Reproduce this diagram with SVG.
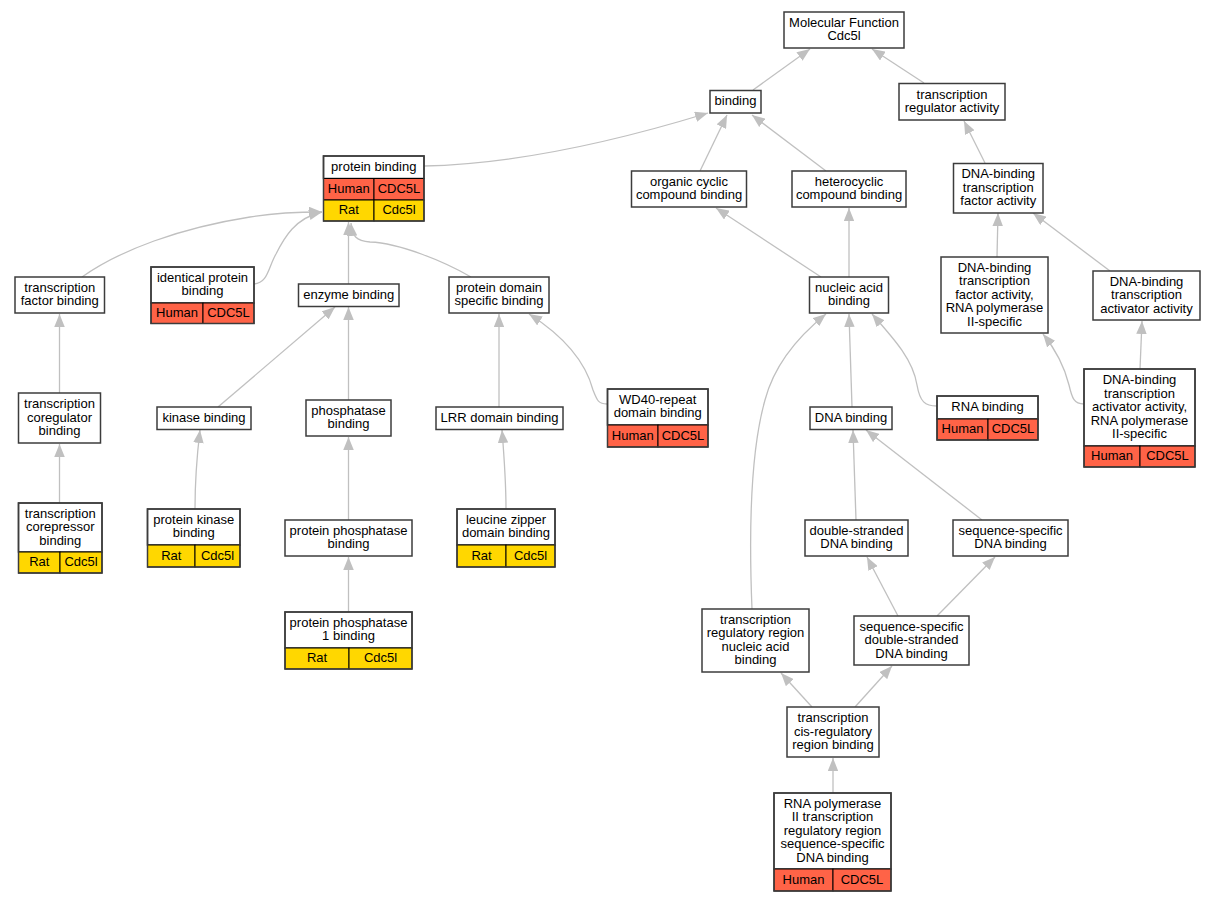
<svg xmlns="http://www.w3.org/2000/svg" width="1216" height="901" viewBox="0 0 1216 901">
<style>
text{font-family:"Liberation Sans",Arial,sans-serif;font-size:13px;text-anchor:middle;fill:#000}
.b{fill:#fff;stroke:#3c3c3c;stroke-width:1.5}
.o{fill:none;stroke:#3c3c3c;stroke-width:1.5}
.h{fill:#FF6347;stroke:#000;stroke-width:1}
.r{fill:#FFD700;stroke:#000;stroke-width:1}
.e{fill:none;stroke:#c0c0c0;stroke-width:1.3;marker-end:url(#a)}
</style>
<defs>
<marker id="a" markerUnits="userSpaceOnUse" markerWidth="13" markerHeight="10.5" viewBox="0 0 13 10.5" refX="13" refY="5.25" orient="auto">
<path d="M0,0 L13,5.25 L0,10.5 z" fill="#c0c0c0"/>
</marker>
</defs>
<rect width="1216" height="901" fill="#fff"/>
<g id="edges">
<path class="e" d="M753,90 L810,49"/>
<path class="e" d="M924,83 L872,49"/>
<path class="e" d="M424,166 C520,164 620,140 708,113"/>
<path class="e" d="M700,171 L727,115"/>
<path class="e" d="M826,171 L752,115"/>
<path class="e" d="M985,163 L964,121"/>
<path class="e" d="M82,277 C120,250 180,228 250,217 C280,212 305,212 322,212"/>
<path class="e" d="M254,284 C268,283 268,268 276,254 C284,238 295,218 322,212"/>
<path class="e" d="M348.5,284 L348.5,222"/>
<path class="e" d="M471,277 C445,262 400,243 370,242 C356,241 352,236 351,223"/>
<path class="e" d="M218,407 L335,307"/>
<path class="e" d="M348.5,400 L348.5,307"/>
<path class="e" d="M195,509 C195,480 197,455 200,430"/>
<path class="e" d="M348.5,520 L348.5,437"/>
<path class="e" d="M348.5,612 L348.5,557"/>
<path class="e" d="M59.5,393 L59.5,314"/>
<path class="e" d="M59.5,503 L59.5,444"/>
<path class="e" d="M499,407 L499,314"/>
<path class="e" d="M506,509 C506,480 504,455 502,430"/>
<path class="e" d="M607,404 C598,404 597,400 593,390 C585,360 562,335 529,314"/>
<path class="e" d="M821,277 L716,208"/>
<path class="e" d="M849,277 L849,208"/>
<path class="e" d="M852,407 L849,314"/>
<path class="e" d="M937,406 C925,406 920,402 917,385 C913,360 895,340 872,314"/>
<path class="e" d="M752,609 C750,560 748,460 765,400 C775,362 800,335 826,314"/>
<path class="e" d="M997,257 L998,213"/>
<path class="e" d="M1110,271 L1033,213"/>
<path class="e" d="M1084,404 C1074,404 1072,398 1069,385 C1064,365 1056,350 1043,334"/>
<path class="e" d="M1140,369 L1142,321"/>
<path class="e" d="M856,520 L853,430"/>
<path class="e" d="M982,520 L866,430"/>
<path class="e" d="M898,616 L867,557"/>
<path class="e" d="M937,616 L995,557"/>
<path class="e" d="M812,707 L781,673"/>
<path class="e" d="M855,707 L892,666"/>
<path class="e" d="M833,793 L833,758"/>
</g>
<g id="mf"><rect class="b" x="784" y="12" width="120" height="36"/><text x="844" y="26.8">Molecular Function</text><text x="844" y="40.3">Cdc5l</text></g>
<g id="binding"><rect class="b" x="710" y="90.5" width="51" height="22.5"/><text x="735.5" y="105.3">binding</text></g>
<g id="tra"><rect class="b" x="899" y="83.5" width="106" height="36.5"/><text x="952" y="98.5">transcription</text><text x="952" y="112">regulator activity</text></g>
<g id="pb"><rect class="b" x="323.5" y="156" width="100.5" height="22.5"/><rect class="h" x="323.5" y="178.5" width="50.5" height="21.5"/><rect class="h" x="374" y="178.5" width="50" height="21.5"/><rect class="r" x="323.5" y="200" width="50.5" height="21"/><rect class="r" x="374" y="200" width="50" height="21"/><rect class="o" x="323.5" y="156" width="100.5" height="65"/><text x="373.75" y="170.8">protein binding</text><text x="348.75" y="192.8">Human</text><text x="399" y="192.8">CDC5L</text><text x="348.75" y="214">Rat</text><text x="399" y="214">Cdc5l</text></g>
<g id="organic"><rect class="b" x="631.5" y="171" width="115" height="36"/><text x="689" y="185.75">organic cyclic</text><text x="689" y="199.25">compound binding</text></g>
<g id="hetero"><rect class="b" x="792" y="171" width="114" height="36"/><text x="849" y="185.75">heterocyclic</text><text x="849" y="199.25">compound binding</text></g>
<g id="dnatf"><rect class="b" x="953.5" y="163.5" width="89.5" height="49.5"/><text x="998.25" y="178.25">DNA-binding</text><text x="998.25" y="191.75">transcription</text><text x="998.25" y="205.25">factor activity</text></g>
<g id="tfb"><rect class="b" x="15" y="277" width="89.5" height="36"/><text x="59.75" y="291.75">transcription</text><text x="59.75" y="305.25">factor binding</text></g>
<g id="ident"><rect class="b" x="151" y="267" width="103" height="36"/><rect class="h" x="151" y="303" width="52" height="20.5"/><rect class="h" x="203" y="303" width="51" height="20.5"/><rect class="o" x="151" y="267" width="103" height="56.5"/><text x="202.5" y="281.75">identical protein</text><text x="202.5" y="295.25">binding</text><text x="177" y="317">Human</text><text x="228.5" y="317">CDC5L</text></g>
<g id="enzyme"><rect class="b" x="298.5" y="284" width="100.5" height="22.5"/><text x="348.75" y="298.75">enzyme binding</text></g>
<g id="domain"><rect class="b" x="449" y="277" width="100" height="36"/><text x="499" y="291.75">protein domain</text><text x="499" y="305.25">specific binding</text></g>
<g id="nucleic"><rect class="b" x="809.5" y="277" width="79" height="36"/><text x="849" y="291.75">nucleic acid</text><text x="849" y="305.25">binding</text></g>
<g id="dnatfpol"><rect class="b" x="941" y="257" width="107" height="76"/><text x="994.5" y="271.5">DNA-binding</text><text x="994.5" y="285">transcription</text><text x="994.5" y="298.5">factor activity,</text><text x="994.5" y="312">RNA polymerase</text><text x="994.5" y="325.5">II-specific</text></g>
<g id="activator"><rect class="b" x="1093" y="271" width="107" height="49"/><text x="1146.5" y="285.5">DNA-binding</text><text x="1146.5" y="299">transcription</text><text x="1146.5" y="312.5">activator activity</text></g>
<g id="coreg"><rect class="b" x="18.5" y="393" width="82" height="50"/><text x="59.5" y="408">transcription</text><text x="59.5" y="421.5">coregulator</text><text x="59.5" y="435">binding</text></g>
<g id="kinase"><rect class="b" x="157" y="407" width="94" height="22.5"/><text x="204" y="421.75">kinase binding</text></g>
<g id="phos"><rect class="b" x="306" y="400" width="85" height="36"/><text x="348.5" y="414.75">phosphatase</text><text x="348.5" y="428.25">binding</text></g>
<g id="lrr"><rect class="b" x="436" y="407" width="127" height="22.5"/><text x="499.5" y="421.75">LRR domain binding</text></g>
<g id="wd40"><rect class="b" x="607.5" y="389" width="100.5" height="36"/><rect class="h" x="607.5" y="425" width="50.5" height="22"/><rect class="h" x="658" y="425" width="50" height="22"/><rect class="o" x="607.5" y="389" width="100.5" height="58"/><text x="657.75" y="403.75">WD40-repeat</text><text x="657.75" y="417.25">domain binding</text><text x="632.75" y="439.5">Human</text><text x="683" y="439.5">CDC5L</text></g>
<g id="dnab"><rect class="b" x="810" y="407" width="82" height="22.5"/><text x="851" y="421.75">DNA binding</text></g>
<g id="rnab"><rect class="b" x="937" y="396" width="101" height="23"/><rect class="h" x="937" y="419" width="51" height="21"/><rect class="h" x="988" y="419" width="50" height="21"/><rect class="o" x="937" y="396" width="101" height="44"/><text x="987.5" y="411">RNA binding</text><text x="962.5" y="433">Human</text><text x="1013" y="433">CDC5L</text></g>
<g id="actpol"><rect class="b" x="1084" y="369" width="111" height="77"/><rect class="h" x="1084" y="446" width="56" height="21"/><rect class="h" x="1140" y="446" width="55" height="21"/><rect class="o" x="1084" y="369" width="111" height="98"/><text x="1139.5" y="384">DNA-binding</text><text x="1139.5" y="397.5">transcription</text><text x="1139.5" y="411">activator activity,</text><text x="1139.5" y="424.5">RNA polymerase</text><text x="1139.5" y="438">II-specific</text><text x="1112" y="460">Human</text><text x="1167.5" y="460">CDC5L</text></g>
<g id="corep"><rect class="b" x="18.5" y="503" width="83.5" height="49"/><rect class="r" x="18.5" y="552" width="41.5" height="21"/><rect class="r" x="60" y="552" width="42" height="21"/><rect class="o" x="18.5" y="503" width="83.5" height="70"/><text x="60.25" y="517.5">transcription</text><text x="60.25" y="531">corepressor</text><text x="60.25" y="544.5">binding</text><text x="39.25" y="566">Rat</text><text x="81" y="566">Cdc5l</text></g>
<g id="pkinase"><rect class="b" x="147.5" y="509" width="92.5" height="36"/><rect class="r" x="147.5" y="545" width="47.5" height="22"/><rect class="r" x="195" y="545" width="45" height="22"/><rect class="o" x="147.5" y="509" width="92.5" height="58"/><text x="193.75" y="523.75">protein kinase</text><text x="193.75" y="537.25">binding</text><text x="171.25" y="559.5">Rat</text><text x="217.5" y="559.5">Cdc5l</text></g>
<g id="pphos"><rect class="b" x="285" y="520" width="127" height="36"/><text x="348.5" y="534.75">protein phosphatase</text><text x="348.5" y="548.25">binding</text></g>
<g id="leucine"><rect class="b" x="457" y="509" width="98" height="36"/><rect class="r" x="457" y="545" width="49" height="22"/><rect class="r" x="506" y="545" width="49" height="22"/><rect class="o" x="457" y="509" width="98" height="58"/><text x="506" y="523.75">leucine zipper</text><text x="506" y="537.25">domain binding</text><text x="481.5" y="559.5">Rat</text><text x="530.5" y="559.5">Cdc5l</text></g>
<g id="ds"><rect class="b" x="805" y="520" width="103" height="36"/><text x="856.5" y="534.75">double-stranded</text><text x="856.5" y="548.25">DNA binding</text></g>
<g id="ssdna"><rect class="b" x="953" y="520" width="115" height="36"/><text x="1010.5" y="534.75">sequence-specific</text><text x="1010.5" y="548.25">DNA binding</text></g>
<g id="pp1"><rect class="b" x="285" y="612" width="127" height="36"/><rect class="r" x="285" y="648" width="64" height="21"/><rect class="r" x="349" y="648" width="63" height="21"/><rect class="o" x="285" y="612" width="127" height="57"/><text x="348.5" y="626.75">protein phosphatase</text><text x="348.5" y="640.25">1 binding</text><text x="317" y="662">Rat</text><text x="380.5" y="662">Cdc5l</text></g>
<g id="trr"><rect class="b" x="702" y="609" width="107" height="63"/><text x="755.5" y="623.75">transcription</text><text x="755.5" y="637.25">regulatory region</text><text x="755.5" y="650.75">nucleic acid</text><text x="755.5" y="664.25">binding</text></g>
<g id="ssds"><rect class="b" x="854" y="616" width="115" height="49"/><text x="911.5" y="630.5">sequence-specific</text><text x="911.5" y="644">double-stranded</text><text x="911.5" y="657.5">DNA binding</text></g>
<g id="cis"><rect class="b" x="787" y="707" width="92" height="50"/><text x="833" y="722">transcription</text><text x="833" y="735.5">cis-regulatory</text><text x="833" y="749">region binding</text></g>
<g id="rnapol"><rect class="b" x="774" y="793" width="117" height="76"/><rect class="h" x="774" y="869" width="59" height="22"/><rect class="h" x="833" y="869" width="58" height="22"/><rect class="o" x="774" y="793" width="117" height="98"/><text x="832.5" y="807.5">RNA polymerase</text><text x="832.5" y="821">II transcription</text><text x="832.5" y="834.5">regulatory region</text><text x="832.5" y="848">sequence-specific</text><text x="832.5" y="861.5">DNA binding</text><text x="803.5" y="883.5">Human</text><text x="862" y="883.5">CDC5L</text></g>
</svg>
